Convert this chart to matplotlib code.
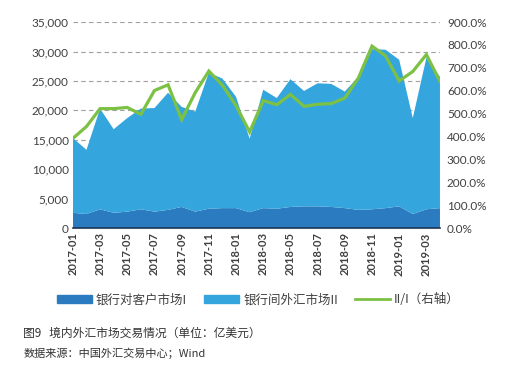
import matplotlib
matplotlib.use('Agg')
import matplotlib.pyplot as plt
from matplotlib.patches import Patch
from matplotlib.lines import Line2D
from matplotlib.ticker import FuncFormatter, MultipleLocator

months = ['2017-01', '2017-02', '2017-03', '2017-04', '2017-05', '2017-06', '2017-07',
          '2017-08', '2017-09', '2017-10', '2017-11', '2017-12', '2018-01', '2018-02',
          '2018-03', '2018-04', '2018-05', '2018-06', '2018-07', '2018-08', '2018-09',
          '2018-10', '2018-11', '2018-12', '2019-01', '2019-02', '2019-03', '2019-04']

# 银行对客户市场 I (亿美元)
market_i = [2600, 2400, 3200, 2600, 2800, 3200, 2800, 3100, 3600, 2800, 3300, 3400, 3400, 2700,
            3400, 3300, 3600, 3700, 3700, 3600, 3400, 3100, 3200, 3400, 3700, 2400, 3200, 3400]
# 银行间外汇市场 II (亿美元), stacked on top of I
market_ii = [12700, 10900, 17100, 14200, 15900, 17100, 17600, 19900, 17000, 17000, 23100, 22000,
             18900, 12500, 20100, 18800, 21700, 19600, 20900, 20900, 19800, 22600, 27200, 26900,
             24900, 16300, 25700, 22300]
# II/I (%), right axis
ratio = [392, 444, 522, 522, 527, 497, 601, 626, 474, 592, 686, 624, 535, 420,
         557, 539, 584, 532, 541, 544, 568, 656, 795, 752, 643, 684, 758, 641]

c_dark = '#2a7bbf'
c_light = '#35a5dd'
c_green = '#7cc144'
txt = '#404040'
cjk = ['Noto Sans CJK SC', 'DejaVu Sans']

fig = plt.figure(figsize=(5.17, 3.74), dpi=100)
ax = fig.add_axes([0.141, 0.390, 0.710, 0.551])
x = list(range(len(months)))

ax.stackplot(x, market_i, market_ii, colors=[c_dark, c_light], linewidth=0)
ax.set_xlim(0, len(months) - 1)
ax.set_ylim(0, 35000)
ax.yaxis.set_major_locator(MultipleLocator(5000))
ax.yaxis.set_major_formatter(FuncFormatter(lambda v, p: f'{v:,.0f}'))
ax.grid(axis='y', linestyle=(0, (4, 3)), color='#a0a0a0', linewidth=0.8)
ax.set_axisbelow(True)
for s in ['top', 'left', 'right']:
    ax.spines[s].set_visible(False)
ax.spines['bottom'].set_color('#1c3350')
ax.spines['bottom'].set_linewidth(1.2)
ax.spines['bottom'].set_zorder(5)

ax.set_xticks(x[::2])
ax.set_xticklabels(months[::2], rotation=90, fontsize=8, fontfamily='Lato',
                   fontweight='bold', color=txt)
ax.tick_params(axis='both', length=0, pad=3)
for lab in ax.get_yticklabels():
    lab.set_fontfamily('Lato')
    lab.set_fontsize(8.5)
    lab.set_color(txt)

ax2 = ax.twinx()
ax2.plot(x, [r / 100 for r in ratio], color=c_green, linewidth=2.3, solid_joinstyle='miter')
ax2.set_ylim(0, 9)
ax2.yaxis.set_major_locator(MultipleLocator(1))
ax2.yaxis.set_major_formatter(FuncFormatter(lambda v, p: f'{v * 100:.1f}%'))
ax2.tick_params(axis='y', length=0, pad=5)
for s in ['top', 'left', 'right', 'bottom']:
    ax2.spines[s].set_visible(False)
for lab in ax2.get_yticklabels():
    lab.set_fontfamily('Lato')
    lab.set_fontsize(8.5)
    lab.set_color(txt)

handles = [Patch(color=c_dark), Patch(color=c_light), Line2D([], [], color=c_green, linewidth=2)]
labels = ['银行对客户市场I', '银行间外汇市场II', 'II/I（右轴）']
fig.legend(handles, labels, loc='center', bbox_to_anchor=(0.5, 0.198), ncol=3, frameon=False,
           prop={'family': cjk, 'size': 9}, handlelength=2.8, handleheight=0.5,
           columnspacing=1.4, handletextpad=0.3, labelcolor=txt)

fig.text(0.045, 0.110, '图9   境内外汇市场交易情况（单位：亿美元）', fontfamily=cjk,
         fontsize=8.5, color='#333333', va='center')
fig.text(0.045, 0.056, '数据来源：中国外汇交易中心；Wind', fontfamily=cjk,
         fontsize=8, color='#333333', va='center')

fig.savefig('out.png', dpi=100)
